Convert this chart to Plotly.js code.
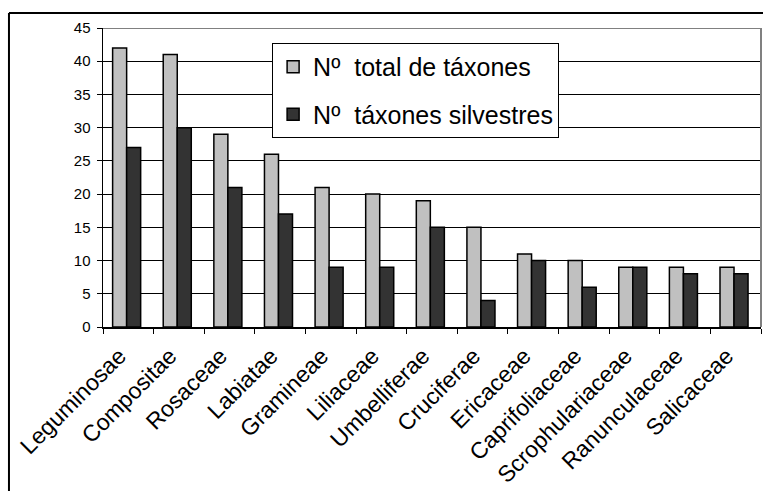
<!DOCTYPE html>
<html>
<head>
<meta charset="utf-8">
<script src="https://cdn.plot.ly/plotly-3.0.1.min.js"></script>
<style>
html,body{margin:0;padding:0;background:#fff;}
#chart{width:763px;height:491px;}
</style>
</head>
<body>
<div id="chart"></div>
<script>
const families = ["Leguminosae","Compositae","Rosaceae","Labiatae","Gramineae","Liliaceae","Umbelliferae","Cruciferae","Ericaceae","Caprifoliaceae","Scrophulariaceae","Ranunculaceae","Salicaceae"];
const totalTaxa = [42,41,29,26,21,20,19,15,11,10,9,9,9];
const wildTaxa = [27,30,21,17,9,9,15,4,10,6,9,8,8];
const seriesNames = ["N\u00ba\u00a0 total de t\u00e1xones","N\u00ba\u00a0 t\u00e1xones silvestres"];
const yTicks = [0,5,10,15,20,25,30,35,40,45];

const FONT = "Arial, Liberation Sans, sans-serif";

const traces = [
  {type:"bar", x:families, y:totalTaxa, name:seriesNames[0], legendgroup:"a",
   offset:-0.31, width:0.277,
   marker:{color:"#c0c0c0", line:{color:"#000", width:1.5}}},
  {type:"bar", x:families, y:wildTaxa, name:seriesNames[1], legendgroup:"b",
   offset:-0.033, width:0.277,
   marker:{color:"#333333", line:{color:"#000", width:1.5}}}
];

const layout = {
  width:763, height:491,
  margin:{l:103, r:2, t:28, b:164},
  paper_bgcolor:"#fff", plot_bgcolor:"#fff",
  font:{family:FONT, color:"#000"},
  barmode:"group",
  xaxis:{
    type:"category", tickangle:-45, tickson:"boundaries",
    ticks:"outside", ticklen:5, tickcolor:"#000", tickwidth:1,
    showline:true, linecolor:"#000", linewidth:1.5,
    showgrid:false, tickfont:{size:23, family:FONT},
    ticklabelshift:-9, ticklabelstandoff:5,
    fixedrange:true
  },
  yaxis:{
    range:[0,45], tickvals:yTicks, ticktext:yTicks.map(String),
    ticks:"outside", ticklen:5, tickcolor:"#000", tickwidth:1,
    showline:true, linecolor:"#000", linewidth:1.5,
    showgrid:true, gridcolor:"#000", gridwidth:1,
    zeroline:false, tickfont:{size:15, family:FONT}, ticklabelstandoff:3,
    fixedrange:true
  },
  legend:{
    x:0.257, y:0.95, xanchor:"left", yanchor:"top",
    bgcolor:"#fff", bordercolor:"#000", borderwidth:1,
    font:{size:25, family:FONT}, traceorder:"grouped", tracegroupgap:12,
    itemwidth:30
  },
  shapes:[
    {type:"line", xref:"paper", yref:"y", x0:0, x1:1, y0:45, y1:45, line:{color:"#808080", width:2}, layer:"above"},
    {type:"line", xref:"paper", yref:"paper", x0:1, x1:1, y0:0, y1:1, line:{color:"#808080", width:2}, layer:"above"},
    {type:"line", xref:"paper", yref:"paper", x0:-0.1429, x1:-0.1429, y0:-0.6, y1:1.0502, line:{color:"#000", width:2}},
    {type:"line", xref:"paper", yref:"paper", x0:-0.1429, x1:1.1, y0:1.0502, y1:1.0502, line:{color:"#000", width:2}}
  ],
  showlegend:true
};

Plotly.newPlot("chart", traces, layout, {displayModeBar:false, staticPlot:true});
</script>
</body>
</html>
